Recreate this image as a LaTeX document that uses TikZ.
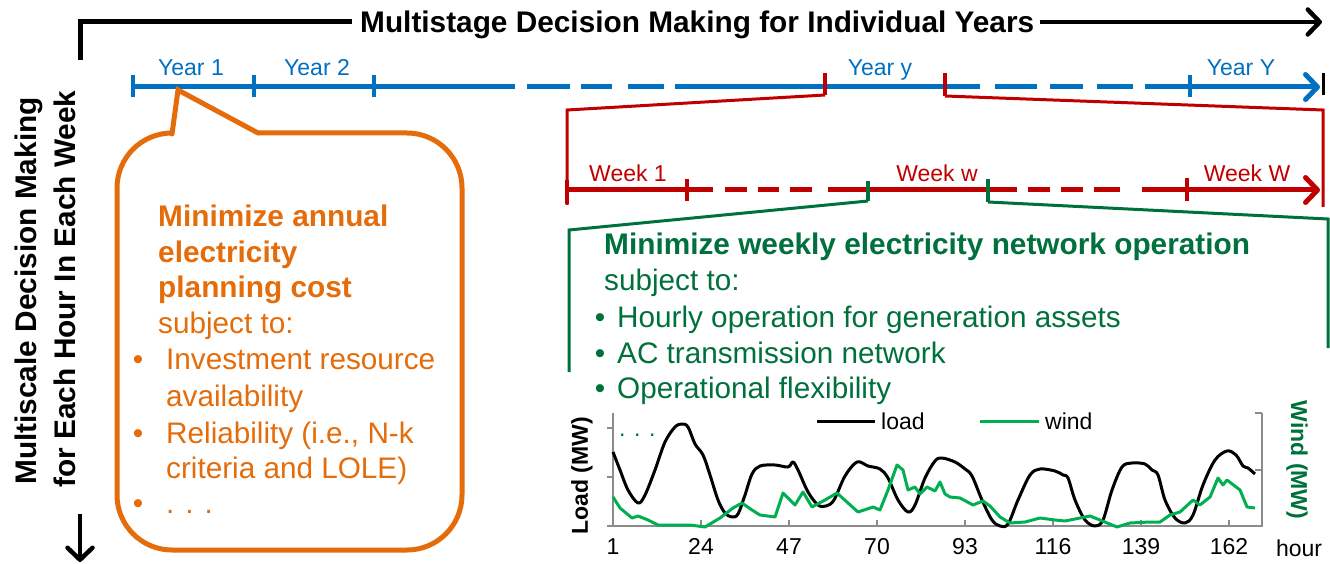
\documentclass[tikz,border=0pt]{standalone}
\usepackage{fontspec}
\setmainfont{Liberation Sans}
\usetikzlibrary{arrows.meta}
\definecolor{blueC}{HTML}{0070C0}
\definecolor{redC}{HTML}{C00000}
\definecolor{orangeC}{HTML}{E46C0A}
\definecolor{greenD}{HTML}{00703C}
\definecolor{greenW}{HTML}{00B050}
\definecolor{grayA}{HTML}{8C8C8C}
\tikzset{
  barb/.style={-{Straight Barb[length=12pt,width=25pt,round]}},
  bax/.style={blueC,line width=5pt},
  btick/.style={blueC,line width=4pt},
  rax/.style={redC,line width=5pt},
  rtick/.style={redC,line width=4pt},
  rthin/.style={redC,line width=3pt},
  gtick/.style={greenD,line width=4pt},
  gthin/.style={greenD,line width=3pt},
  bigb/.style={font=\fontsize{29.8}{36}\selectfont\bfseries,inner sep=0pt},
  bigr/.style={font=\fontsize{29.7}{36}\selectfont,inner sep=0pt},
  lab/.style={font=\fontsize{23}{28}\selectfont,inner sep=0pt},
  labb/.style={font=\fontsize{23}{28}\selectfont\bfseries,inner sep=0pt},
  otxt/.style={text=orangeC},
  gtxt/.style={text=greenD},
  axisl/.style={grayA,line width=1.5pt},
}
\begin{document}
\begin{tikzpicture}[x=1pt,y=-1pt]
\useasboundingbox (0,0) rectangle (1330,564);

% ---------- title ----------
\node[bigb,anchor=base west] (title) at (360,33) {Multistage Decision Making for Individual Years};
\coordinate (tl0) at (80,60);
\coordinate (tl1) at (80,22);
\coordinate (tl2) at (352,22);
\coordinate (ta0) at (1040,22);
\coordinate (ta1) at (1322,22);
\draw[line width=5pt] (tl0) -- (tl1) -- (tl2);
\draw[line width=4.5pt,barb] (ta0) -- (ta1);

% ---------- left vertical title ----------
\node[bigb,rotate=90] (vt1) at (29,291) {Multiscale Decision Making};
\node[bigb,rotate=90] (vt2) at (65,289) {for Each Hour In Each Week};
\coordinate (da0) at (80,514);
\coordinate (da1) at (80,562);
\draw[line width=4.5pt,barb] (da0) -- (da1);

% ---------- blue year axis ----------
\draw[bax] (133,87) -- (515,87);
\foreach \a/\b in {527/570,581/612,628/664} \draw[bax] (\a,87) -- (\b,87);
\draw[bax] (675,87) -- (980,87);
\foreach \a/\b in {995/1037,1050/1083,1097/1133} \draw[bax] (\a,87) -- (\b,87);
\draw[bax,barb] (1145,87) -- (1320,87);
\foreach \x in {133,254,374,1190} \draw[btick] (\x,75) -- (\x,97);
\draw[line width=3pt] (1323,73) -- (1323,95);
\node[lab,text=blueC,anchor=base] (y1) at (191,76) {Year 1};
\node[lab,text=blueC,anchor=base] (y2) at (317,76) {Year 2};
\node[lab,text=blueC,anchor=base] (yy) at (880,76) {Year y};
\node[lab,text=blueC,anchor=base] (yY) at (1241,76) {Year Y};

% ---------- red zoom of year y ----------
\coordinate (ry0) at (825,73);
\coordinate (ry1) at (825,95);
\coordinate (ry2) at (567,110);
\coordinate (ry3) at (567,205);
\coordinate (rz0) at (945,73);
\coordinate (rz1) at (945,96);
\coordinate (rz2) at (1323,110);
\coordinate (rz3) at (1323,207);
\draw[rtick] (ry0) -- (ry1);
\draw[rthin] (ry1) -- (ry2) -- (ry3);
\draw[rtick] (rz0) -- (rz1);
\draw[rthin] (rz1) -- (rz2) -- (rz3);

% ---------- red week axis ----------
\draw[rax] (567,190) -- (713,190);
\foreach \a/\b in {725/747,758/779,790/812,828/867} \draw[rax] (\a,190) -- (\b,190);
\draw[rax] (867,190) -- (1017,190);
\foreach \a/\b in {1028/1050,1061/1083,1094/1120} \draw[rax] (\a,190) -- (\b,190);
\draw[rax,barb] (1142,190) -- (1320,190);
\draw[rtick] (567,180) -- (567,204);
\draw[rtick] (687,179) -- (687,201);
\draw[rtick] (1187,178) -- (1187,201);
\node[lab,text=redC,anchor=base] (w1) at (628,182) {Week 1};
\node[lab,text=redC,anchor=base] (ww) at (937,182) {Week w};
\node[lab,text=redC,anchor=base] (wW) at (1247,182) {Week W};

% ---------- green zoom of week w ----------
\coordinate (gw0) at (868,181);
\coordinate (gw1) at (868,201);
\coordinate (gw2) at (569,230);
\coordinate (gw3) at (569,372);
\coordinate (gx0) at (988,179);
\coordinate (gx1) at (988,202);
\coordinate (gx2) at (1328,219);
\coordinate (gx3) at (1328,348);
\draw[gtick] (gw0) -- (gw1);
\draw[gthin] (gw1) -- (gw2) -- (gw3);
\draw[gtick] (gx0) -- (gx1);
\draw[gthin] (gx1) -- (gx2) -- (gx3);

% ---------- orange callout ----------
\draw[orangeC,line width=5pt,rounded corners=55pt] (258,133) -- (462,133) -- (462,550) -- (117,550) -- (117,133) -- (172,133);
\draw[orangeC,line width=5pt,line join=miter,line cap=round] (172,134) -- (178,90) -- (258,133);
\node[bigb,otxt,anchor=base west] (o1) at (158,226) {Minimize annual};
\node[bigb,otxt,anchor=base west] (o2) at (158,262) {electricity};
\node[bigb,otxt,anchor=base west] (o3) at (158,297) {planning cost};
\node[bigr,otxt,anchor=base west] (o4) at (158,333) {subject to:};
\node[bigr,otxt,anchor=base] (ob1) at (138,369) {•};
\node[bigr,otxt,anchor=base west] (o5) at (166,369) {Investment resource};
\node[bigr,otxt,anchor=base west] (o6) at (166,406) {availability};
\node[bigr,otxt,anchor=base] (ob2) at (138,443) {•};
\node[bigr,otxt,anchor=base west] (o7) at (166,443) {Reliability (i.e., N-k};
\node[bigr,otxt,anchor=base west] (o8) at (166,478) {criteria and LOLE)};
\node[bigr,otxt,anchor=base] (ob3) at (138,513) {•};
\node[bigr,otxt,anchor=base west] (o9) at (166,513) {. . .};

% ---------- green text ----------
\node[bigb,gtxt,anchor=base west] (g1) at (604,254) {Minimize weekly electricity network operation};
\node[bigr,gtxt,anchor=base west] (g2) at (604,290) {subject to:};
\node[bigr,gtxt,anchor=base] (gb1) at (600,327) {•};
\node[bigr,gtxt,anchor=base west] (g3) at (617,327) {Hourly operation for generation assets};
\node[bigr,gtxt,anchor=base] (gb2) at (600,363) {•};
\node[bigr,gtxt,anchor=base west] (g4) at (617,363) {AC transmission network};
\node[bigr,gtxt,anchor=base] (gb3) at (600,398) {•};
\node[bigr,gtxt,anchor=base west] (g5) at (617,398) {Operational flexibility};

% ---------- chart ----------
\draw[axisl] (613,413) -- (613,526) -- (1262,526) -- (1262,413);
\foreach \y in {428,477,526} \draw[axisl] (607,\y) -- (613,\y);
\foreach \y in {413,470} \draw[axisl] (1255,\y) -- (1262,\y);
\foreach \k/\t in {0/1,1/24,2/47,3/70,4/93,5/116,6/139,7/162} {
  \draw[axisl] ({613+88*\k},520) -- ({613+88*\k},526);
  \node[lab,anchor=base] (xt\k) at ({613+88*\k},554) {\t};
}
\node[lab,anchor=base] (hour) at (1299,556) {hour};
\node[labb,rotate=90] (ylab) at (582,476) {Load (MW)};
\node[labb,rotate=-90,text=greenD] (y2lab) at (1297,460) {Wind (MW)};
\node[lab,gtxt,anchor=base west] (gdots) at (619,436) {. . .};

% legend
\coordinate (lg0) at (817,421);
\coordinate (lg1) at (875,421);
\coordinate (wg0) at (980,421);
\coordinate (wg1) at (1039,421);
\draw[line width=3pt] (lg0) -- (lg1);
\node[lab,anchor=base west] (ltxt) at (881,429) {load};
\draw[greenW,line width=3pt] (wg0) -- (wg1);
\node[lab,anchor=base west] (wtxt) at (1045,429) {wind};

% load curve
\draw[line width=3pt,line join=round] plot[smooth,tension=0.55] coordinates {
(613,452) (620,470) (628,490) (638,503) (645,495) (655,470) (665,442) (675,427) (682,424) (688,427) (695,444) (703,455) (710,475) (718,500) (725,513) (732,517) (738,514) (745,495) (752,474) (760,466) (775,465) (788,467) (793,462) (798,470) (808,492) (818,505) (826,506) (834,500) (845,476) (857,462) (868,466) (880,469) (888,478) (898,500) (908,512) (915,505) (925,478) (935,461) (942,458) (955,462) (965,469) (972,476) (982,500) (992,520) (1000,526) (1008,524) (1018,500) (1030,475) (1040,469) (1055,471) (1063,475) (1068,478) (1075,500) (1085,520) (1095,526) (1103,520) (1112,490) (1122,467) (1132,463) (1145,464) (1152,470) (1158,475) (1165,500) (1175,518) (1185,523) (1193,515) (1203,485) (1215,460) (1227,451) (1236,455) (1243,466) (1248,468) (1255,474)};

% wind curve
\draw[greenW,line width=3pt,line join=round] plot coordinates {
(613,497) (620,508) (632,518) (638,516) (648,520) (658,525) (675,525) (690,525) (705,527) (720,518) (733,508) (742,503) (752,510) (760,515) (775,517) (783,493) (795,505) (803,492) (812,507) (825,500) (837,493) (848,503) (858,512) (873,507) (880,510) (888,490) (897,465) (903,470) (908,490) (915,487) (920,494) (927,487) (935,491) (940,482) (945,494) (950,497) (960,498) (973,505) (983,501) (990,506) (1000,517) (1010,523) (1025,522) (1040,518) (1055,520) (1065,521) (1080,518) (1090,516) (1100,520) (1117,527) (1130,523) (1150,522) (1160,522) (1170,515) (1180,512) (1193,500) (1200,505) (1210,497) (1218,478) (1223,485) (1227,480) (1240,490) (1247,507) (1255,508)};
\end{tikzpicture}
\end{document}
